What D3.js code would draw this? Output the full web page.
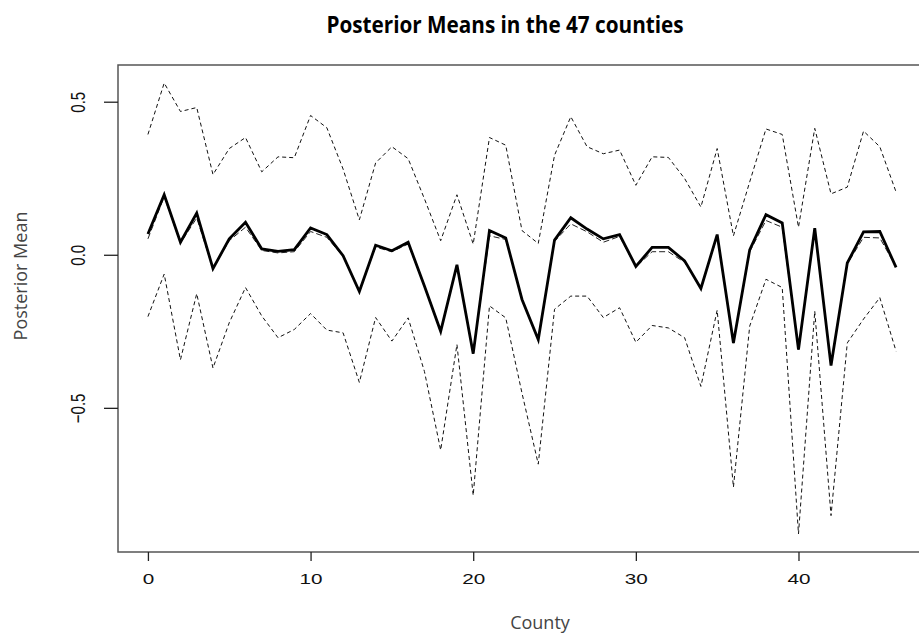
<!DOCTYPE html>
<html>
<head>
<meta charset="utf-8">
<script src="https://cdn.jsdelivr.net/npm/d3@7"></script>
<style>
    body { margin: 0; background: #fff; }
    svg { display: block; }
</style>
</head>
<body>
<div class="chart-container"></div>
<script>
// Data: one value per county, index 0..46
const counties = d3.range(47);

const posteriorMean = [
    0.068, 0.196, 0.041, 0.136, -0.045, 0.052, 0.106, 0.019, 0.011, 0.017,
    0.088, 0.066, -0.003, -0.120, 0.031, 0.013, 0.041, -0.102, -0.250, -0.033,
    -0.323, 0.079, 0.055, -0.146, -0.277, 0.048, 0.121, 0.084, 0.052, 0.066,
    -0.038, 0.024, 0.024, -0.020, -0.110, 0.066, -0.288, 0.016, 0.131, 0.104,
    -0.310, 0.087, -0.362, -0.027, 0.075, 0.076, -0.041
];

const posteriorMedian = [
    0.052, 0.190, 0.038, 0.120, -0.045, 0.046, 0.090, 0.014, 0.006, 0.010,
    0.076, 0.057, -0.005, -0.120, 0.025, 0.010, 0.035, -0.102, -0.250, -0.035,
    -0.323, 0.062, 0.050, -0.146, -0.277, 0.044, 0.101, 0.075, 0.041, 0.060,
    -0.040, 0.010, 0.010, -0.025, -0.110, 0.060, -0.290, 0.010, 0.112, 0.090,
    -0.310, 0.080, -0.360, -0.030, 0.057, 0.055, -0.040
];

const upper = [
    0.393, 0.561, 0.468, 0.481, 0.262, 0.347, 0.383, 0.271, 0.320, 0.317,
    0.455, 0.415, 0.280, 0.114, 0.300, 0.353, 0.314, 0.183, 0.046, 0.196,
    0.035, 0.383, 0.358, 0.079, 0.037, 0.325, 0.451, 0.353, 0.330, 0.342,
    0.227, 0.320, 0.318, 0.249, 0.156, 0.347, 0.062, 0.238, 0.411, 0.393,
    0.090, 0.413, 0.199, 0.221, 0.404, 0.353, 0.205
];

const lower = [
    -0.202, -0.063, -0.343, -0.127, -0.370, -0.222, -0.107, -0.200, -0.271, -0.244,
    -0.192, -0.246, -0.255, -0.417, -0.205, -0.282, -0.206, -0.381, -0.638, -0.293,
    -0.786, -0.167, -0.206, -0.452, -0.684, -0.178, -0.135, -0.135, -0.205, -0.173,
    -0.286, -0.231, -0.239, -0.271, -0.430, -0.181, -0.759, -0.233, -0.080, -0.107,
    -0.912, -0.184, -0.852, -0.288, -0.210, -0.140, -0.315
];

const xTicks = [0, 10, 20, 30, 40];
const yTicks = [-0.5, 0.0, 0.5];

const titleText = 'Posterior Means in the 47 counties';
const xLabel = 'County';
const yLabel = 'Posterior Mean';

// Plot region, as in base R
const svgWidth = 919;
const svgHeight = 638;
const plot = { left: 118, top: 65, right: 926, bottom: 552 };

// R style 4% padding on both axes
function padExtent(ext) {
    const pad = (ext[1] - ext[0]) * 0.04;
    return [ext[0] - pad, ext[1] + pad];
}

const xScale = d3.scaleLinear()
    .domain(padExtent(d3.extent(counties)))
    .range([plot.left, plot.right]);

const yScale = d3.scaleLinear()
    .domain(padExtent(d3.extent([...upper, ...lower, ...posteriorMean])))
    .range([plot.bottom, plot.top]);

const svg = d3.select('.chart-container')
    .append('svg')
    .attr('width', svgWidth)
    .attr('height', svgHeight);

// Title
svg.append('text')
    .attr('transform', 'translate(505,33) scale(0.9,1)')
    .attr('text-anchor', 'middle')
    .style('font-family', '"Open Sans", sans-serif')
    .style('font-weight', 'bold')
    .style('font-size', '23px')
    .style('fill', '#000')
    .text(titleText);

// Series lines
const line = values => d3.line()
    .x((d, i) => xScale(counties[i]))
    .y(d => yScale(d))(values);

const series = [
    { values: upper, width: 1, dash: '4,3', color: '#111' },
    { values: lower, width: 1, dash: '4,3', color: '#111' },
    { values: posteriorMedian, width: 1, dash: '6,3', color: '#222' },
    { values: posteriorMean, width: 2.8, dash: null, color: '#000' }
];

svg.selectAll('.series')
    .data(series)
    .enter()
    .append('path')
    .attr('class', 'series')
    .attr('d', d => line(d.values))
    .attr('fill', 'none')
    .attr('stroke', d => d.color)
    .attr('stroke-width', d => d.width)
    .attr('stroke-dasharray', d => d.dash)
    .attr('stroke-linejoin', 'miter');

// Box
svg.append('rect')
    .attr('x', plot.left)
    .attr('y', plot.top)
    .attr('width', plot.right - plot.left)
    .attr('height', plot.bottom - plot.top)
    .attr('fill', 'none')
    .attr('stroke', '#555')
    .attr('stroke-width', 1.5);

// Axes
const xAxis = d3.axisBottom(xScale)
    .tickValues(xTicks)
    .tickFormat(d3.format('d'))
    .tickSizeInner(9)
    .tickSizeOuter(0)
    .tickPadding(12);

const xAxisDraw = svg.append('g')
    .attr('class', 'x axis')
    .attr('transform', 'translate(0,' + plot.bottom + ')');
xAxis(xAxisDraw);
xAxisDraw.select('.domain').remove();
xAxisDraw.selectAll('line').attr('stroke', '#222').attr('stroke-width', 1.3);
xAxisDraw.selectAll('text')
    .attr('transform', 'scale(1.38,1)')
    .style('font-family', '"Liberation Sans", Arial, sans-serif')
    .style('font-size', '15px')
    .style('fill', '#111');

const yAxis = d3.axisLeft(yScale)
    .tickValues(yTicks)
    .tickFormat(d3.format('.1f'))
    .tickSizeInner(14)
    .tickSizeOuter(0);

const yAxisDraw = svg.append('g')
    .attr('class', 'y axis')
    .attr('transform', 'translate(' + plot.left + ',0)');
yAxis(yAxisDraw);
yAxisDraw.select('.domain').remove();
yAxisDraw.selectAll('line').attr('stroke', '#222').attr('stroke-width', 1.3);
yAxisDraw.selectAll('text')
    .attr('x', 0)
    .attr('dy', 0)
    .attr('text-anchor', 'middle')
    .attr('transform', 'translate(-33,0) scale(1.4,1) rotate(-90)')
    .style('font-family', '"Liberation Sans", Arial, sans-serif')
    .style('font-size', '15px')
    .style('fill', '#111');

// Axis titles
svg.append('text')
    .attr('x', 540)
    .attr('y', 629)
    .attr('text-anchor', 'middle')
    .style('font-family', '"Open Sans", sans-serif')
    .style('font-size', '18px')
    .style('fill', '#444')
    .text(xLabel);

svg.append('text')
    .attr('transform', 'translate(27,276) rotate(-90)')
    .attr('text-anchor', 'middle')
    .style('font-family', '"Open Sans", sans-serif')
    .style('font-size', '18px')
    .style('fill', '#444')
    .text(yLabel);
</script>
</body>
</html>
